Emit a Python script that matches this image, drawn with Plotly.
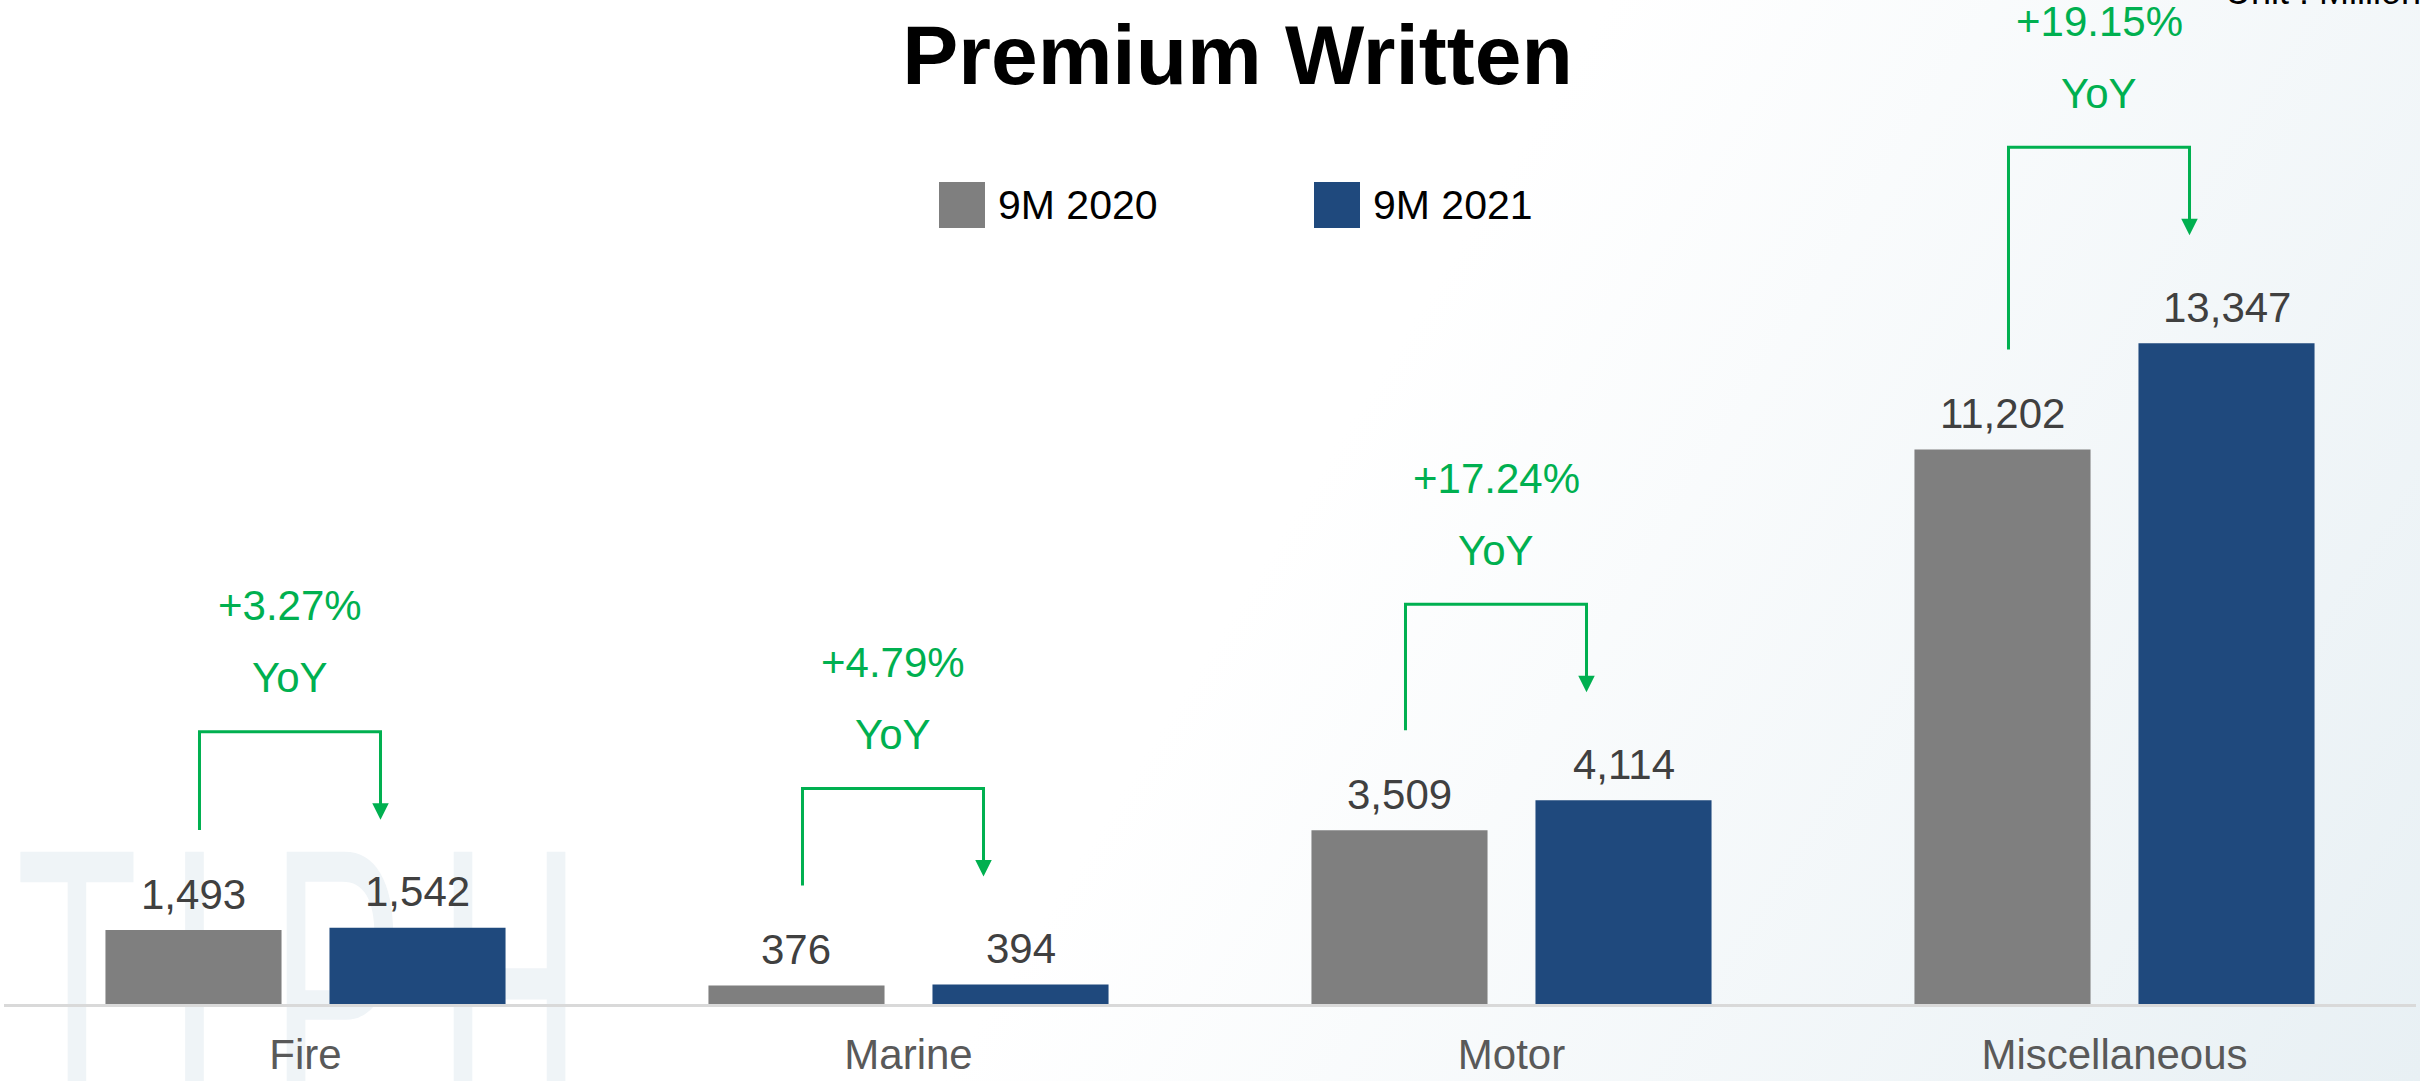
import base64
import plotly.graph_objects as go

categories = ["Fire", "Marine", "Motor", "Miscellaneous"]
series_names = ["9M 2020", "9M 2021"]
premium_9m2020 = [1493, 376, 3509, 11202]
premium_9m2021 = [1542, 394, 4114, 13347]
yoy_text = ["+3.27%", "+4.79%", "+17.24%", "+19.15%"]

GRAY = "#7f7f7f"
NAVY = "#1f497d"
GREEN = "#00b050"
FONT = "Arial, Liberation Sans, sans-serif"

W, H = 2420, 1081
L, R, T, B = 4, 4, 4, 77
PW, PH = W - L - R, H - T - B
Y_MAX = 20200
BARGAP, GROUPGAP = 0.257, 0.214
half = (1 - BARGAP) / 4   # distance of each bar centre from its category centre


def dy(p):   # pixels -> y data units
    return p * Y_MAX / PH


def dx(p):   # pixels -> category units
    return p * len(categories) / PW


def paper_x(p):
    return (p - L) / PW


def paper_y(p):
    return 1 - (p - T) / PH


fig = go.Figure()
fig.add_trace(go.Bar(x=categories, y=premium_9m2020, name=series_names[0],
                     marker=dict(color=GRAY, line=dict(width=0)), showlegend=False))
fig.add_trace(go.Bar(x=categories, y=premium_9m2021, name=series_names[1],
                     marker=dict(color=NAVY, line=dict(width=0)), showlegend=False))

annotations = []
shapes = []

# value labels above bars
for off, vals in ((-half, premium_9m2020), (half, premium_9m2021)):
    for i, v in enumerate(vals):
        annotations.append(dict(x=i + off, y=v, xref="x", yref="y", text=f"{v:,}",
                                showarrow=False, yanchor="middle", yshift=36,
                                font=dict(family=FONT, size=42, color="#404040")))

# YoY connectors
for i, (a, b, lab) in enumerate(zip(premium_9m2020, premium_9m2021, yoy_text)):
    lx = i - half + dx(6)
    rx = i + half - dx(37)
    y_top = max(a, b) + dy(196)
    y_start = a + dy(100)
    y_tip = b + dy(108)
    shapes.append(dict(type="path", xref="x", yref="y",
                       path=f"M {lx},{y_start} L {lx},{y_top} L {rx},{y_top} L {rx},{y_tip + dy(12)}",
                       line=dict(color=GREEN, width=3)))
    annotations.append(dict(x=rx, y=y_tip, ax=rx, ay=y_tip + dy(20), xref="x", yref="y",
                            axref="x", ayref="y", text="", showarrow=True, arrowhead=2,
                            arrowsize=1.1, arrowwidth=3, arrowcolor=GREEN,
                            standoff=0, startstandoff=0))
    mid = (lx + rx) / 2
    annotations.append(dict(x=mid, y=y_top, xref="x", yref="y", text=lab, showarrow=False,
                            yanchor="middle", yshift=126,
                            font=dict(family=FONT, size=42, color=GREEN)))
    annotations.append(dict(x=mid, y=y_top, xref="x", yref="y", text="YoY", showarrow=False,
                            yanchor="middle", yshift=54,
                            font=dict(family=FONT, size=42, color=GREEN)))

# legend drawn by hand (large square swatches)
for (x0, name, col) in ((939, series_names[0], GRAY), (1314, series_names[1], NAVY)):
    shapes.append(dict(type="rect", xref="paper", yref="paper",
                       x0=paper_x(x0), x1=paper_x(x0 + 46), y0=paper_y(228), y1=paper_y(182),
                       fillcolor=col, line=dict(width=0)))
    annotations.append(dict(x=paper_x(x0 + 57), y=paper_y(205), xref="paper", yref="paper",
                            text=name, showarrow=False, xanchor="left", yanchor="middle",
                            font=dict(family=FONT, size=41, color="#000000")))

# unit note, cut off at the top right like the slide
annotations.append(dict(x=paper_x(2223), y=paper_y(14), xref="paper", yref="paper",
                        text="Unit : Million Baht", showarrow=False, xanchor="left",
                        yanchor="bottom", font=dict(family=FONT, size=36, color="#000000")))

# slide background: soft gradient and faint watermark
bg_svg = f'''<svg xmlns="http://www.w3.org/2000/svg" width="{W}" height="{H}" viewBox="0 0 {W} {H}" preserveAspectRatio="none">
<defs><linearGradient id="g" gradientUnits="userSpaceOnUse" x1="1350" y1="420" x2="2420" y2="1081">
<stop offset="0" stop-color="#ffffff"/><stop offset="1" stop-color="#e8f0f4"/></linearGradient></defs>
<rect width="{W}" height="{H}" fill="url(#g)"/>
<g transform="scale(0.5,1)" font-family="Liberation Sans, Arial, sans-serif" font-size="400" fill="#eff4f7" text-anchor="middle">
<text x="154" y="1127">T</text><text x="389" y="1127">I</text>
<text x="674" y="1127">P</text><text x="1019" y="1127">H</text>
</g></svg>'''
bg_src = "data:image/svg+xml;base64," + base64.b64encode(bg_svg.encode()).decode()

fig.update_layout(
    width=W, height=H,
    margin=dict(l=L, r=R, t=T, b=B),
    paper_bgcolor="#ffffff", plot_bgcolor="rgba(0,0,0,0)",
    barmode="group", bargap=BARGAP, bargroupgap=GROUPGAP,
    title=dict(text="Premium Written", x=1237.5 / W, xanchor="center",
               y=1 - 55 / H, yanchor="middle",
               font=dict(family=FONT, size=84, color="#000000", weight="bold")),
    xaxis=dict(showline=True, linecolor="#d9d9d9", linewidth=3, ticks="",
               showgrid=False, ticklabelstandoff=12,
               tickfont=dict(family=FONT, size=42, color="#595959")),
    yaxis=dict(visible=False, range=[0, Y_MAX], showgrid=False, zeroline=False),
    shapes=shapes, annotations=annotations,
    images=[dict(source=bg_src, xref="paper", yref="paper",
                 x=-L / PW, y=1 + T / PH, sizex=W / PW, sizey=H / PH,
                 xanchor="left", yanchor="top", sizing="stretch", layer="below")],
    showlegend=False,
)

# page body margin off so the figure sits at the window's top-left corner
fig.write_html("out.html", config={"displayModeBar": False},
               post_script="document.body.style.margin='0';document.body.style.overflow='hidden';")
